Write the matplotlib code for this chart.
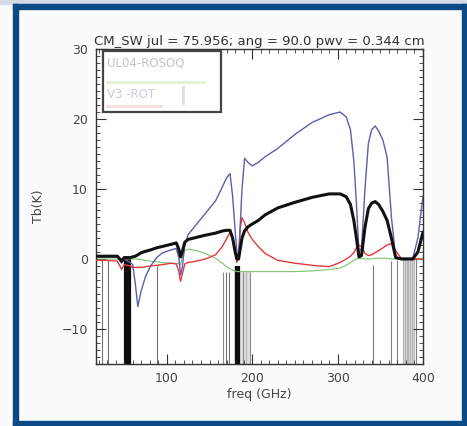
import matplotlib
matplotlib.use("Agg")
import matplotlib.pyplot as plt
from matplotlib.patches import Rectangle
from matplotlib.ticker import MultipleLocator

# frequency grid (GHz) shared by the four curves
freq = [17, 30, 42, 47, 50, 57, 60, 63, 66, 70, 75, 81, 88, 95, 105, 111, 114, 116, 118, 121,
        125, 135, 145, 157, 165, 170, 174, 177, 180, 182, 184, 186, 188, 191, 195, 200, 207, 215,
        230, 250, 270, 290, 303, 310, 315, 319, 322, 325, 328, 332, 336, 340, 344, 348, 353, 358,
        363, 368, 375, 388, 394, 400]

tb_blue = [0.3, 0.3, 0.3, -0.6, 0.0, -0.5, -0.8, -3.5, -6.8, -4.5, -2.5, -1.0, 0.2, 0.9, 1.3, 1.5,
           0.2, -2.3, -1.2, 2.0, 3.5, 5.0, 6.5, 8.3, 10.3, 11.6, 12.2, 9.0, 4.0, 1.0, 0.0, 5.0, 10.0,
           14.4, 13.8, 13.3, 13.8, 14.6, 15.8, 17.8, 19.5, 20.6, 21.0, 20.3, 18.5, 14.0, 8.0, 1.0,
           1.5, 10.0, 16.5, 18.5, 19.0, 18.3, 17.0, 14.5, 6.0, 0.2, 0.1, 0.1, 3.0, 9.0]

tb_black = [0.4, 0.4, 0.4, -0.3, 0.2, 0.2, 0.3, 0.4, 0.6, 0.9, 1.1, 1.3, 1.6, 1.8, 2.1, 2.3,
            1.4, 0.3, 1.0, 2.4, 2.8, 3.1, 3.4, 3.7, 4.0, 4.1, 4.1, 3.0, 1.0, 0.0, 0.0, 1.5, 3.0,
            4.0, 4.6, 5.0, 5.5, 6.3, 7.3, 8.1, 8.8, 9.3, 9.3, 8.9, 7.8, 5.5, 3.0, 0.3, 0.5, 4.5,
            7.2, 8.0, 8.2, 7.8, 6.8, 5.5, 3.0, 0.2, 0.0, 0.0, 1.0, 3.8]

tb_red = [-0.2, -0.2, -0.3, -1.5, -0.8, -1.0, -1.2, -1.2, -1.2, -1.2, -1.1, -1.0, -0.9, -0.8,
          -0.6, -0.7, -1.8, -3.2, -2.2, -0.7, -0.5, -0.3, 0.0, 0.6, 1.8, 2.9, 3.8, 3.0, 1.0, -0.5,
          0.5, 4.5, 5.9, 5.2, 3.8, 2.8, 1.8, 0.8, -0.2, -0.6, -0.9, -1.1, -0.5, 0.0, 0.4, 0.9,
          1.6, 2.0, 1.7, 0.8, 0.5, 0.6, 0.9, 1.2, 1.6, 2.0, 2.2, 1.2, 0.0, 0.0, 0.0, 0.0]

tb_green = [0.0, 0.0, 0.0, 0.0, 0.0, 0.0, 0.0, 0.0, 0.0, -0.1, -0.2, -0.3, -0.4, -0.5, -0.6,
            -0.7, -0.6, -0.8, 0.2, 1.2, 1.4, 1.2, 0.8, 0.1, -0.6, -1.1, -1.4, -1.6, -1.7, -1.8,
            -1.8, -1.8, -1.8, -1.8, -1.8, -1.8, -1.8, -1.8, -1.8, -1.8, -1.7, -1.5, -1.3, -0.9,
            -0.5, -0.2, 0.0, 0.1, 0.1, 0.0, 0.0, 0.0, 0.1, 0.1, 0.1, 0.1, 0.0, 0.0, 0.0, 0.0,
            0.0, 0.0]

# channel frequencies drawn as vertical lines (freq, top of line, grey level)
chan_freq = [23.8, 31.4, 89.0, 165.5, 169.0, 173.0, 189.0, 193.0, 197.0,
             341.5, 363.0, 369.0, 377.0, 379.0, 381.0, 383.0, 385.0, 387.0, 389.0, 392.0]
chan_top = [-0.2, -0.2, -1.0, -1.8, -1.8, -1.8, -1.8, -1.8, -1.8,
            -0.8, -0.3, -0.2, 0.0, 0.0, 0.0, 0.0, 0.0, 0.0, 0.0, 0.0]
chan_grey = ["0.45", "0.45", "0.45", "0.55", "0.45", "0.45", "0.55", "0.7", "0.55",
             "0.5", "0.5", "0.5", "0.7", "0.7", "0.7", "0.7", "0.7", "0.7", "0.7", "0.5"]
# dense bands near 55 and 183 GHz
band_freq = [51.5, 52.5, 53.5, 54.5, 55.5, 56.5, 180.5, 181.5, 182.5, 183.3, 184.0]
band_top = [0.0, 0.0, 0.0, 0.0, 0.0, 0.0, -1.0, -1.0, -1.0, -1.0, -1.0]

legend_labels = ["UL04-ROSOQ", "V3 -ROT"]

fig = plt.figure(figsize=(4.67, 4.26), dpi=100, facecolor="#fbfbfb")

# slide frame
W, H = 467.0, 426.0
fig.add_artist(Rectangle((0, 1 - 4 / H), 1, 4 / H, transform=fig.transFigure,
                         color="#d3dbe6", zorder=0))
frame = "#0b4a86"
fig.add_artist(Rectangle((13 / W, 0), 5 / W, 1 - 4 / H, transform=fig.transFigure, color=frame))
fig.add_artist(Rectangle((462 / W, 0), 5 / W, 1 - 4 / H, transform=fig.transFigure, color=frame))
fig.add_artist(Rectangle((13 / W, 1 - 9 / H), 454 / W, 5 / H, transform=fig.transFigure, color=frame))
fig.add_artist(Rectangle((13 / W, 0), 454 / W, 5 / H, transform=fig.transFigure, color=frame))

ax = fig.add_axes([96 / W, 1 - 364 / H, 327 / W, 315 / H])
ax.set_facecolor("white")

ax.vlines(chan_freq, -15, chan_top, colors=chan_grey, linewidth=0.8, zorder=1)
ax.vlines(band_freq, -15, band_top, colors="0.05", linewidth=1.6, zorder=1)
ax.axvspan(376, 391, ymin=0, ymax=15 / 45, color="0.85", lw=0, zorder=0)
ax.axvspan(186, 198, ymin=0, ymax=13.2 / 45, color="0.88", lw=0, zorder=0)

ax.plot(freq, tb_green, color="#7cc46c", lw=0.8, zorder=2)
ax.plot(freq, tb_red, color="#e23a3a", lw=1.0, zorder=3)
ax.plot(freq, tb_blue, color="#5c5fa8", lw=1.0, zorder=4)
ax.plot(freq, tb_black, color="#111111", lw=2.2, zorder=5)

ax.set_xlim(17, 400)
ax.set_ylim(-15, 30)
ax.xaxis.set_major_locator(MultipleLocator(100))
ax.xaxis.set_minor_locator(MultipleLocator(10))
ax.yaxis.set_major_locator(MultipleLocator(10))
ax.yaxis.set_minor_locator(MultipleLocator(1))
ax.tick_params(which="both", direction="in", top=True, right=True, colors="#333333",
               labelsize=9, labelcolor="#444444", pad=6)
ax.tick_params(which="major", length=7)
ax.tick_params(which="minor", length=3)
for s in ax.spines.values():
    s.set_color("#333333")
    s.set_linewidth(1.0)

ax.set_title("CM_SW jul = 75.956; ang = 90.0 pwv = 0.344 cm", fontsize=9.5, color="#333333", pad=3)
ax.set_xlabel("freq (GHz)", fontsize=9, color="#444444", labelpad=2)
ax.set_ylabel("Tb(K)", fontsize=9, color="#444444", labelpad=12)

# faded legend box
ax.add_patch(Rectangle((0.021, 0.80), 0.361, 0.194, transform=ax.transAxes,
                       facecolor="white", edgecolor="#444444", lw=1.6, zorder=6))
ax.text(0.035, 0.955, legend_labels[0], transform=ax.transAxes, fontsize=8.5,
        color="#c4c4c4", va="center", zorder=7)
ax.plot([0.035, 0.33], [0.895, 0.895], transform=ax.transAxes, color="#e4f0dc", lw=2, zorder=7)
ax.text(0.035, 0.855, legend_labels[1], transform=ax.transAxes, fontsize=8.5,
        color="#c9cbe2", va="center", zorder=7)
ax.plot([0.035, 0.2], [0.82, 0.82], transform=ax.transAxes, color="#f4dede", lw=2, zorder=7)
ax.plot([0.265, 0.265], [0.83, 0.88], transform=ax.transAxes, color="#dcdcec", lw=2, zorder=7)

fig.savefig("out.png", dpi=100, facecolor=fig.get_facecolor())
